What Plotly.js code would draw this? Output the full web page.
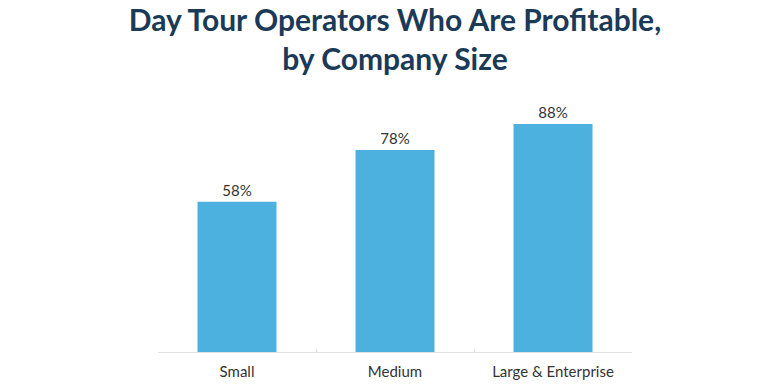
<!DOCTYPE html>
<html><head><meta charset="utf-8">
<script src="https://cdn.plot.ly/plotly-3.0.1.min.js"></script>
<style>html,body{margin:0;padding:0;background:#fff}</style>
</head><body><div id="chart" style="width:780px;height:390px"></div>
<script>
const categories = ["Small", "Medium", "Large & Enterprise"];
const profitablePct = [58, 78, 88];
const valueLabels = ["58%", "78%", "88%"];

const trace = {
  type: "bar",
  x: categories,
  y: profitablePct,
  text: valueLabels,
  textposition: "outside",
  textfont: {family: "Lato, sans-serif", size: 15, color: "#333333"},
  cliponaxis: false,
  marker: {color: "#4DB1E0"},
  hoverinfo: "none"
};

const layout = {
  width: 780, height: 390,
  margin: {l: 158, r: 148, t: 93, b: 38},
  paper_bgcolor: "#ffffff", plot_bgcolor: "#ffffff",
  bargap: 0.5,
  showlegend: false,
  title: {
    text: "<b>Day Tour Operators Who Are Profitable,<br>by Company Size</b>",
    font: {family: "Lato, sans-serif", size: 30, color: "#1B3A57"},
    x: 0.5, xanchor: "center", xref: "paper",
    yref: "container", y: 0.92, yanchor: "middle"
  },
  xaxis: {
    showline: true, linecolor: "#E2E2E2", linewidth: 1,
    ticks: "inside", tickson: "boundaries", ticklen: 3, tickcolor: "#E2E2E2",
    ticklabelstandoff: 6,
    tickfont: {family: "Lato, sans-serif", size: 15, color: "#333333"},
    showgrid: false, zeroline: false, fixedrange: true
  },
  yaxis: {
    range: [0, 100], visible: false, showgrid: false, zeroline: false, fixedrange: true
  }
};

Plotly.newPlot("chart", [trace], layout, {displayModeBar: false, staticPlot: true});
</script></body></html>
